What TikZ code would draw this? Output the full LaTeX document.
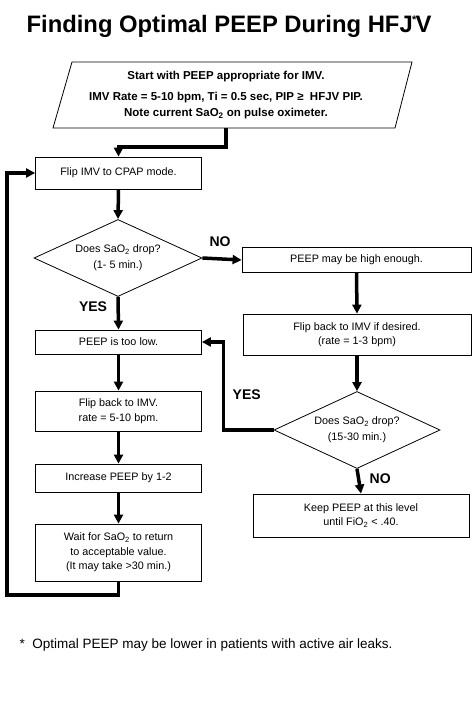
\documentclass[tikz,border=0pt]{standalone}
\usepackage{fontspec}
\setmainfont{Liberation Sans}
\usetikzlibrary{positioning, arrows.meta, shapes.geometric}

\begin{document}
\begin{tikzpicture}[x=1pt, y=-1pt,
  box/.style={draw, line width=0.8pt, minimum width=166pt, inner sep=0pt, align=center,
              font=\fontsize{10.8}{14.5}\selectfont},
  decide/.style={draw, diamond, line width=0.8pt, aspect=2.2, inner sep=0pt, align=center,
              minimum width=168pt, minimum height=77pt, font=\fontsize{10.8}{14}\selectfont},
  flow/.style={line width=3.5pt, -{Triangle[length=9pt, width=9pt]}},
  lbl/.style={font=\fontsize{14}{16}\selectfont\bfseries}]
  \useasboundingbox (0,0) rectangle (474,709);

  \node[anchor=base, font=\fontsize{23.8}{28}\selectfont\bfseries] (title) at (229,33)
       {Finding Optimal PEEP During HFJ\kern-0.5pt\textsuperscript{\fontsize{11}{11}\selectfont *}\kern-1.5pt V};

  % start block
  \draw[line width=0.8pt] (72,62) -- (412,62) -- (395,128) -- (53,128) -- cycle;
  \node[minimum height=66pt, inner sep=0pt, align=center, font=\fontsize{11.5}{16}\selectfont\bfseries]
       (start) at (226,95)
       {Start with PEEP appropriate for IMV.\\[5pt]
        IMV Rate = 5-10 bpm, Ti = 0.5 sec, PIP ≥\ \ HFJV PIP.\\
        Note current SaO\textsubscript{2} on pulse oximeter.};

  % left column
  \node[box, minimum height=32pt] (cpap) at (118.5,173) {Flip IMV to CPAP mode.};
  \node[decide] (drop1) at (118,258) {Does SaO\textsubscript{2} drop?\\[2pt](1- 5 min.)};
  \node[box, minimum height=24pt] (low) at (118.5,342) {PEEP is too low.};
  \node[box, minimum height=40pt] (back) at (118.5,411) {Flip back to IMV.\\rate = 5-10 bpm.};
  \node[box, minimum height=28pt] (incr) at (118.5,478) {Increase PEEP by 1-2};
  \node[box, minimum height=57pt] (wait) at (118.5,552.5)
       {Wait for SaO\textsubscript{2} to return\\to acceptable value.\\(It may take >30 min.)};
  \coordinate (loop) at (7,595);

  % right column
  \node[box, minimum width=229pt, minimum height=25pt] (high) at (356.5,260) {PEEP may be high enough.};
  \node[box, minimum width=228pt, minimum height=41pt] (desired) at (357,334.5)
       {Flip back to IMV if desired.\\(rate = 1-3 bpm)};
  \node[decide, minimum width=166pt] (drop2) at (357,430) {Does SaO\textsubscript{2} drop?\\[2pt](15-30 min.)};
  \node[box, minimum width=216pt, minimum height=43pt] (keep) at (361,515.5)
       {Keep PEEP at this level\\until FiO\textsubscript{2} < .40.};

  % connectors
  \draw[flow] (start.south) -- ++(0,19) -| (cpap.north);
  \draw[flow] (cpap.south) -- (drop1.north);
  \draw[flow] (drop1.east) -- node[lbl, above=7pt, pos=0.45] {NO} (high.west);
  \draw[flow] (drop1.south) -- node[lbl, left=6pt, pos=0.3] {YES} (low.north);
  \draw[flow] (low.south) -- (back.north);
  \draw[flow] (back.south) -- (incr.north);
  \draw[flow] (incr.south) -- (wait.north);
  \draw[flow] (wait.south) |- (loop) |- (cpap.west);
  \draw[flow] (high.south) -- (desired.north);
  \draw[flow] (desired.south) -- (drop2.north);
  \draw[flow] (drop2.west) -- ++(-50,0) |- node[lbl, right=4pt, pos=0.2] {YES} (low.east);
  \draw[flow] (drop2.south) -- node[lbl, right=6pt, pos=0.4] {NO} (keep.north);

  \node[anchor=base west, font=\fontsize{13.5}{16}\selectfont] (note) at (16,648)
       {*\ \ Optimal PEEP may be lower in patients with active air leaks.};
\end{tikzpicture}
\end{document}
